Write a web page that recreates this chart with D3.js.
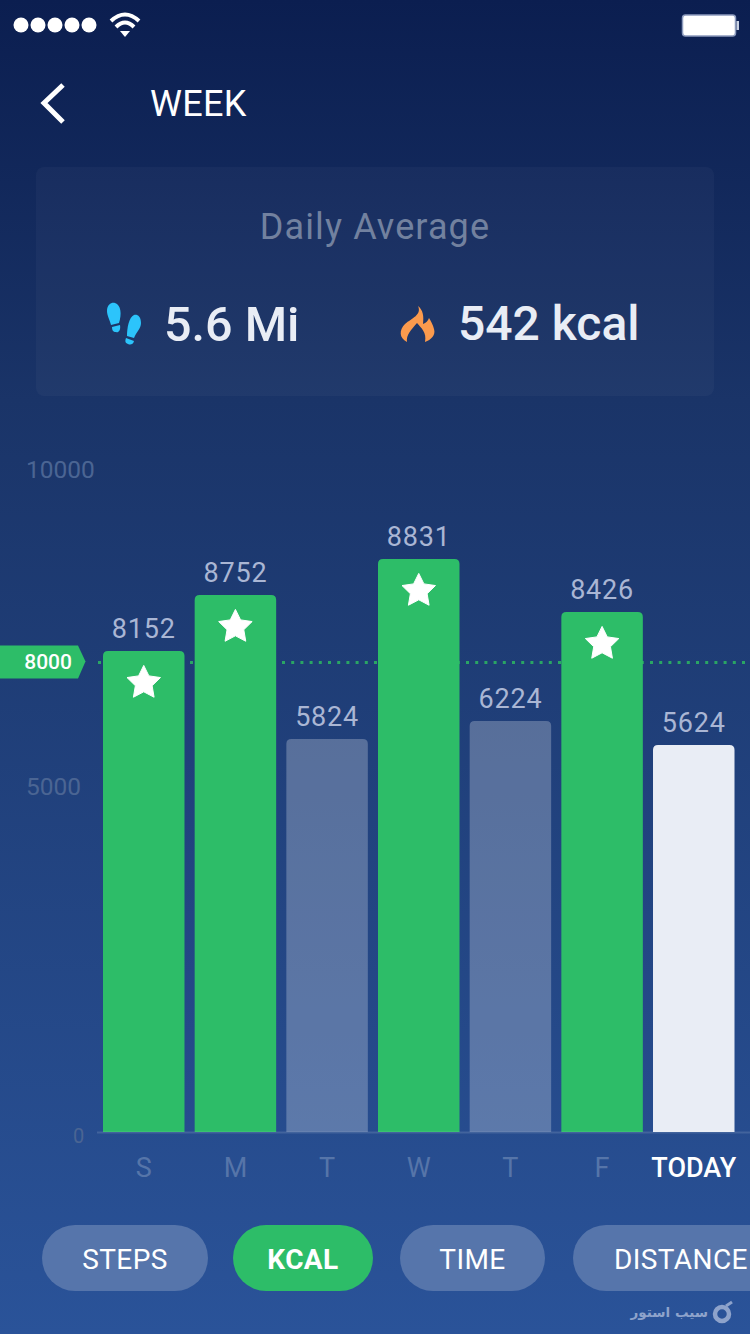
<!DOCTYPE html>
<html>
<head>
<meta charset="utf-8">
<script src="https://cdn.jsdelivr.net/npm/d3@7/dist/d3.min.js"></script>
<style>
html, body { margin: 0; padding: 0; background: #0c1f50; }
svg { display: block; font-family: Roboto, sans-serif; }
</style>
</head>
<body>
<div id="chart"></div>
<script>
var days = ['S', 'M', 'T', 'W', 'T', 'F', 'TODAY'];
var kcal = [8152, 8752, 5824, 8831, 6224, 8426, 5624];
var yTicks = [0, 5000, 10000];
var goal = 8000;
var tabs = ['STEPS', 'KCAL', 'TIME', 'DISTANCE'];
var activeTab = 'KCAL';

var width = 750, height = 1334;

var svg = d3.select('#chart').append('svg')
    .attr('width', width)
    .attr('height', height);

var defs = svg.append('defs');
var bg = defs.append('linearGradient')
    .attr('id', 'bg')
    .attr('x1', 0).attr('y1', 0)
    .attr('x2', 0).attr('y2', 1);
bg.append('stop').attr('offset', '0%').attr('stop-color', '#0b1e50');
bg.append('stop').attr('offset', '30%').attr('stop-color', '#1a3468');
bg.append('stop').attr('offset', '100%').attr('stop-color', '#2a5399');

svg.append('rect')
    .attr('width', width)
    .attr('height', height)
    .attr('fill', 'url(#bg)');

// status bar
svg.append('g').selectAll('circle')
    .data([21, 38, 55, 72, 89])
    .enter().append('circle')
    .attr('cx', function(d) { return d; })
    .attr('cy', 25)
    .attr('r', 7.5)
    .attr('fill', '#fff');

var wifi = svg.append('g').attr('fill', 'none').attr('stroke', '#fff').attr('stroke-width', 4);
wifi.append('path').attr('d', 'M111,21 Q125,8 139,21');
wifi.append('path').attr('d', 'M116,27 Q125,18 134,27');
svg.append('path').attr('d', 'M120,31 L130,31 L125,37 Z').attr('fill', '#fff');

svg.append('rect')
    .attr('x', 682.5).attr('y', 15)
    .attr('width', 53).attr('height', 21)
    .attr('rx', 3)
    .attr('fill', '#fff')
    .attr('stroke', '#8d9bbd')
    .attr('stroke-width', 1.5);
svg.append('rect')
    .attr('x', 736.5).attr('y', 21)
    .attr('width', 2.5).attr('height', 9)
    .attr('fill', '#c9d2e4');

// header
svg.append('path')
    .attr('d', 'M63,85 L44,103 L63,122')
    .attr('fill', 'none')
    .attr('stroke', '#fff')
    .attr('stroke-width', 5);
svg.append('text')
    .attr('x', 150).attr('y', 116)
    .attr('font-size', 36)
    .attr('letter-spacing', 0.3)
    .attr('fill', '#fff')
    .text('WEEK');

// daily average panel
svg.append('rect')
    .attr('x', 36).attr('y', 167)
    .attr('width', 678).attr('height', 229)
    .attr('rx', 8)
    .attr('fill', '#fff')
    .attr('fill-opacity', 0.03);
svg.append('text')
    .attr('x', 375).attr('y', 239)
    .attr('text-anchor', 'middle')
    .attr('font-size', 36)
    .attr('letter-spacing', 1.1)
    .attr('fill', '#72819f')
    .text('Daily Average');
svg.append('text')
    .attr('x', 164).attr('y', 341)
    .attr('font-size', 48.5)
    .attr('font-weight', 500)
    .attr('fill', '#e9edf5')
    .text('5.6 Mi');
svg.append('text')
    .attr('x', 458).attr('y', 340)
    .attr('font-size', 48)
    .attr('font-weight', 500)
    .attr('fill', '#e9edf5')
    .text('542 kcal');

var feet = svg.append('g').attr('fill', '#2cc4fb');
feet.append('path').attr('d', 'M107,311 C107,304 112,302 115,303 C121,305 122,314 119,323 L111,325 C110,320 107,316 107,311 Z');
feet.append('path').attr('d', 'M112,327 L120,325 C121,331 118,333 116,332 C113,332 112,330 112,327 Z');
feet.append('path').attr('d', 'M141,323 C141,316 137,314 134,315 C129,317 127,328 127,336 L134,338 C136,332 141,329 141,323 Z');
feet.append('path').attr('d', 'M126,338 L134,341 C133,345 130,345 128,344 C125,343 125,341 126,338 Z');

svg.append('path')
    .attr('d', 'M418,306 C422,315 412,318 405,324 C399,330 399,338 407,342 C406,335 411,330 417,323 C421,328 427,332 425,342 C431,340 436,335 434,329 C433,325 431,321 429,318 C428,321 426,323 423,324 C424,316 423,310 418,306 Z')
    .attr('fill', '#fb9a4d');

// the bars in the reference do not sit on a uniform axis, so the scale is
// calibrated with knots (ticks, goal line, bar tops)
var yDomain = [0, 5000, 5624, 5824, 6224, 8000, 8152, 8426, 8752, 8831, 10000];
var yRange = [1132, 786, 745, 739, 721, 662.5, 651, 612, 595, 559, 469];
var y = d3.scaleLinear().domain(yDomain).range(yRange);

var x = d3.scaleBand()
    .domain(d3.range(days.length))
    .range([103, 734.5])
    .paddingInner(0.111);

// y axis
var yAxis = svg.append('g')
    .call(d3.axisLeft(y).tickValues(yTicks).tickSize(0).tickFormat(d3.format('d')));
yAxis.select('.domain').remove();
yAxis.selectAll('text')
    .attr('text-anchor', 'start')
    .attr('font-family', 'Roboto, sans-serif')
    .attr('font-size', 24.5)
    .attr('fill', '#4b6593')
    .attr('x', 26)
    .attr('dy', '0.35em');
yAxis.selectAll('.tick')
    .filter(function(d) { return d === 0; })
    .attr('transform', 'translate(0,' + (y(0) + 4) + ')')
    .select('text')
    .attr('font-size', 20)
    .attr('x', 73);

// goal line, drawn behind the bars
svg.append('line')
    .attr('x1', 98).attr('x2', width)
    .attr('y1', y(goal)).attr('y2', y(goal))
    .attr('stroke', '#2aa564')
    .attr('stroke-width', 3)
    .attr('stroke-dasharray', '3 6.2');
svg.append('path')
    .attr('d', d3.line()([[0, y(goal) - 17], [78, y(goal) - 17], [85.5, y(goal) - 1], [78, y(goal) + 16], [0, y(goal) + 16]]))
    .attr('fill', '#2dbd68');
svg.append('text')
    .attr('x', 72).attr('y', y(goal) + 6)
    .attr('text-anchor', 'end')
    .attr('font-size', 21)
    .attr('font-weight', 500)
    .attr('fill', '#fff')
    .text(goal);

// bars
function barFill(d, i) {
    if (days[i] === 'TODAY') return '#e9edf5';
    return d >= goal ? '#2dbd68' : '#fff';
}

function roundTop(d, i) {
    var x0 = x(i), x1 = x0 + x.bandwidth(), y0 = y(d), y1 = y(0), r = 5;
    var p = d3.path();
    p.moveTo(x0, y1);
    p.lineTo(x0, y0 + r);
    p.quadraticCurveTo(x0, y0, x0 + r, y0);
    p.lineTo(x1 - r, y0);
    p.quadraticCurveTo(x1, y0, x1, y0 + r);
    p.lineTo(x1, y1);
    p.closePath();
    return p.toString();
}

svg.append('g').selectAll('path')
    .data(kcal)
    .enter().append('path')
    .attr('d', roundTop)
    .attr('fill', barFill)
    .attr('fill-opacity', function(d, i) {
        return d < goal && days[i] !== 'TODAY' ? 0.25 : 1;
    });

svg.append('line')
    .attr('x1', 97).attr('x2', width)
    .attr('y1', y(0) + 0.5).attr('y2', y(0) + 0.5)
    .attr('stroke', '#fff')
    .attr('stroke-opacity', 0.13)
    .attr('stroke-width', 2);

// stars on the days that beat the goal, fatter than d3.symbolStar
var fatStar = {
    draw: function(context, size) {
        var r = Math.sqrt(size);
        d3.range(10).forEach(function(k) {
            var a = k * Math.PI / 5;
            var rad = k % 2 ? r * 0.5 : r;
            var px = rad * Math.sin(a), py = -rad * Math.cos(a);
            if (k) context.lineTo(px, py); else context.moveTo(px, py);
        });
        context.closePath();
    }
};
var star = d3.symbol().type(fatStar).size(310);
svg.append('g').selectAll('path')
    .data(kcal.map(function(d, i) { return { value: d, index: i }; })
        .filter(function(d) { return d.value >= goal; }))
    .enter().append('path')
    .attr('d', star)
    .attr('fill', '#fff')
    .attr('stroke', '#fff')
    .attr('stroke-width', 1)
    .attr('stroke-linejoin', 'round')
    .attr('transform', function(d) {
        return 'translate(' + (x(d.index) + x.bandwidth() / 2) + ',' + (y(d.value) + 32) + ')';
    });

// value labels
svg.append('g').selectAll('text')
    .data(kcal)
    .enter().append('text')
    .attr('x', function(d, i) { return x(i) + x.bandwidth() / 2; })
    .attr('y', function(d) { return y(d) - 13; })
    .attr('text-anchor', 'middle')
    .attr('font-size', 27)
    .attr('letter-spacing', 0.8)
    .attr('fill', '#aab6d4')
    .text(function(d) { return d; });

// x axis
var xAxis = svg.append('g')
    .attr('transform', 'translate(0,' + y(0) + ')')
    .call(d3.axisBottom(x).tickSize(0).tickFormat(function(i) { return days[i]; }));
xAxis.select('.domain').remove();
xAxis.selectAll('text')
    .attr('font-family', 'Roboto, sans-serif')
    .attr('font-size', 27)
    .attr('font-weight', function(i) { return days[i] === 'TODAY' ? 500 : 400; })
    .attr('dy', 0)
    .attr('y', 45)
    .attr('fill', function(i) { return days[i] === 'TODAY' ? '#fff' : '#5675a9'; });

// tabs
var tabBoxes = [[42, 166], [233, 140], [400, 145], [573, 210]];
var tab = svg.append('g').selectAll('g')
    .data(tabs)
    .enter().append('g')
    .attr('transform', function(d, i) { return 'translate(' + tabBoxes[i][0] + ',1225)'; });
tab.append('rect')
    .attr('width', function(d, i) { return tabBoxes[i][1]; })
    .attr('height', 66)
    .attr('rx', 33)
    .attr('fill', function(d) { return d === activeTab ? '#2dbd68' : '#5675ab'; });
tab.append('text')
    .attr('x', function(d, i) { return tabBoxes[i][1] / 2; })
    .attr('y', 43.5)
    .attr('text-anchor', function(d) { return d === 'DISTANCE' ? 'start' : 'middle'; })
    .attr('dx', function(d) { return d === 'DISTANCE' ? -64 : 0; })
    .attr('font-size', 28)
    .attr('letter-spacing', 0.4)
    .attr('font-weight', function(d) { return d === activeTab ? 700 : 400; })
    .attr('fill', '#fff')
    .text(function(d) { return d; });

// watermark
svg.append('text')
    .attr('x', 708).attr('y', 1317)
    .attr('text-anchor', 'end')
    .attr('font-family', 'DejaVu Sans, sans-serif')
    .attr('font-size', 13.5)
    .attr('font-weight', 700)
    .attr('fill', '#8ea3cb')
    .text('سیب استور');
svg.append('circle')
    .attr('cx', 722).attr('cy', 1314)
    .attr('r', 7)
    .attr('fill', 'none')
    .attr('stroke', '#8ea3cb')
    .attr('stroke-width', 4.5);
svg.append('path')
    .attr('d', 'M726,1306 L732,1302')
    .attr('stroke', '#8ea3cb')
    .attr('stroke-width', 3);
</script>
</body>
</html>
